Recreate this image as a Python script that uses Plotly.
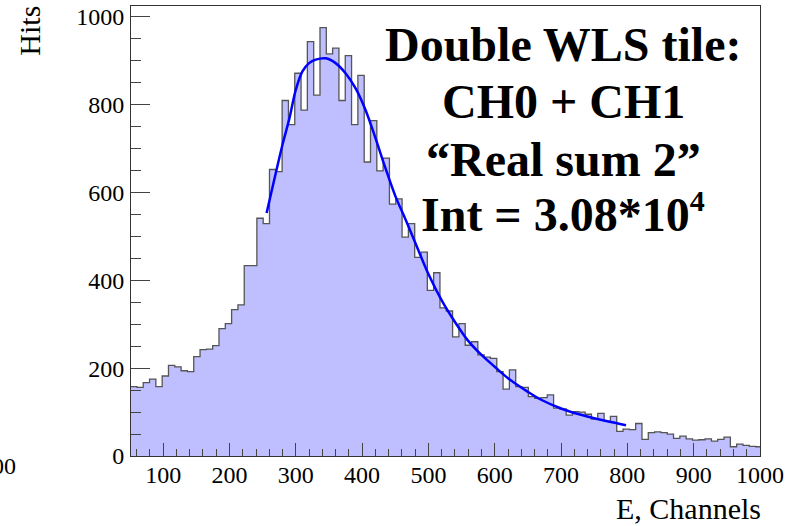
#!/usr/bin/env python3
# -*- coding: utf-8 -*-

import numpy as np
import plotly.graph_objects as go

# histogram binning (channels)
bin_start = 50.9
bin_width = 9.52

# hits per bin, left to right
hits = [158, 156, 167, 175, 158, 182, 206, 203, 194, 192,
        226, 242, 243, 251, 290, 301, 333, 344, 433, 433,
        541, 529, 652, 647, 809, 754, 871, 787, 943, 821,
        975, 915, 928, 809, 911, 754, 866, 669, 763, 649,
        678, 573, 585, 498, 529, 452, 464, 377, 417, 337,
        330, 271, 301, 252, 260, 230, 225, 222, 192, 152,
        196, 158, 156, 135, 131, 133, 139, 109, 107, 93,
        101, 100, 95, 84, 97, 79, 90, 56, 61, 60,
        74, 38, 53, 55, 53, 50, 40, 45, 39, 36,
        37, 39, 34, 38, 43, 21, 27, 24, 22, 21]

# fit curve
fit_x = [256, 270, 280, 290, 300, 310, 320, 330, 345, 360, 375, 390,
         405, 420, 435, 450, 465, 480, 500, 520, 540, 560, 580, 600,
         620, 650, 670, 700, 720, 750, 770, 798]
fit_y = [553, 645, 709, 766, 833, 875, 894, 902, 905, 894, 871, 837,
         788, 724, 656, 592, 540, 486, 414, 354, 305, 262, 230, 203,
         177, 146, 128, 108, 98, 86, 79, 70]

label_lines = ['Double WLS tile:', 'CH0 + CH1', '\u201cReal sum 2\u201d',
               'Int = 3.08*10<sup><span style="font-size:30px">4</span></sup>']
label_ypix = [43, 100, 158, 211]

FONT = 'Liberation Serif'
W, H = 788, 526
L, R, T, B = 131, 24, 4, 70


def px_to_paper(xpix=None, ypix=None):
    """Convert a pixel position on the page to paper coordinates."""
    pw, ph = W - L - R, H - T - B
    out = []
    if xpix is not None:
        out.append((xpix - L) / pw)
    if ypix is not None:
        out.append((H - B - ypix) / ph)
    return out[0] if len(out) == 1 else out


edges = bin_start + bin_width * np.arange(len(hits) + 1)

fig = go.Figure()
fig.add_trace(go.Scatter(
    x=edges, y=hits + [hits[-1]], mode='lines', line_shape='hv',
    fill='tozeroy', fillcolor='#bfbfff',
    line=dict(color='#555555', width=1.3), hoverinfo='skip'))
fig.add_trace(go.Scatter(
    x=fit_x, y=fit_y, mode='lines', line_shape='spline',
    line=dict(color='#0000ff', width=2.5)))

for txt, yp in zip(label_lines, label_ypix):
    fig.add_annotation(text='<b>' + txt + '</b>', xref='paper', yref='paper',
                       x=px_to_paper(xpix=566), y=px_to_paper(ypix=yp),
                       xanchor='center', yanchor='middle', showarrow=False,
                       font=dict(family=FONT, size=48, color='black'))

# axis titles, ROOT style
fig.add_annotation(text='Hits', textangle=-90, xref='paper', yref='paper',
                   x=px_to_paper(xpix=28), y=px_to_paper(ypix=2),
                   xanchor='center', yanchor='top', showarrow=False,
                   font=dict(family=FONT, size=30, color='black'))
fig.add_annotation(text='E, Channels', xref='paper', yref='paper',
                   x=px_to_paper(xpix=767), y=px_to_paper(ypix=509),
                   xanchor='right', yanchor='middle', showarrow=False,
                   font=dict(family=FONT, size=30, color='black'))
fig.add_annotation(text='00', xref='paper', yref='paper',
                   x=px_to_paper(xpix=17), y=px_to_paper(ypix=466),
                   xanchor='right', yanchor='middle', showarrow=False,
                   font=dict(family=FONT, size=24, color='black'))

fig.update_layout(width=W, height=H, showlegend=False,
                  margin=dict(l=L, r=R, t=T, b=B),
                  plot_bgcolor='white', paper_bgcolor='white',
                  font=dict(family=FONT, size=24, color='black'))
fig.update_xaxes(range=[51.5, 1000], tickmode='linear', tick0=0, dtick=100,
                 ticks='inside', ticklen=13, tickcolor='#444', tickwidth=1,
                 minor=dict(ticks='inside', ticklen=7, dtick=20, tick0=0,
                            tickcolor='#444'),
                 showline=True, linecolor='#333', linewidth=1, mirror=True,
                 showgrid=False, zeroline=False, ticklabelstandoff=-3,
                 tickfont=dict(family=FONT, size=24, color='black'))
fig.update_yaxes(range=[0, 1024], tickmode='linear', tick0=0, dtick=200,
                 ticks='inside', ticklen=19, tickcolor='#444', tickwidth=1,
                 minor=dict(ticks='inside', ticklen=10, dtick=50, tick0=0,
                            tickcolor='#444'),
                 showline=True, linecolor='#333', linewidth=1, mirror=True,
                 showgrid=False, zeroline=False, ticklabelstandoff=1,
                 tickfont=dict(family=FONT, size=24, color='black'))

# drop the default page margin so the figure sits at the window corner
fig.write_html('out.html', config={'displayModeBar': False},
               post_script="document.body.style.margin='0';")
